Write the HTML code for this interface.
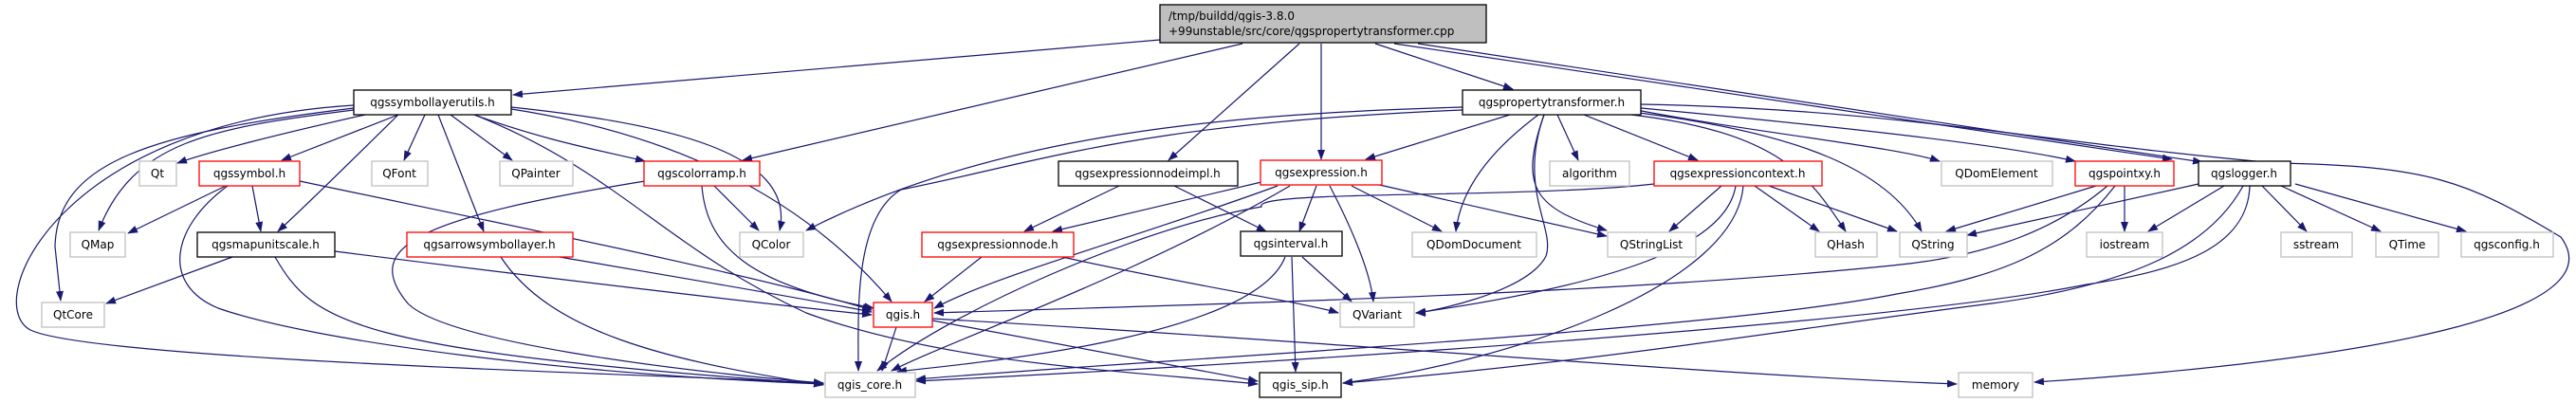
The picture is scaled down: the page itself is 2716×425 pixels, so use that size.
<!DOCTYPE html>
<html><head><meta charset="utf-8"><style>
html,body{margin:0;padding:0;background:#fff;}
svg{display:block;}
text{font-family:"DejaVu Sans","Liberation Sans",sans-serif;font-size:12px;fill:#000;}
.e{fill:none;stroke:#191970;stroke-width:1.2;}
</style></head><body>
<svg width="2716" height="425" viewBox="0 0 2716 425" xmlns="http://www.w3.org/2000/svg">
<defs><marker id="a" markerWidth="11" markerHeight="8" refX="10" refY="4" orient="auto" markerUnits="userSpaceOnUse"><path d="M0,0 L11,4 L0,8 z" fill="#191970"/></marker></defs>
<g class="e" marker-end="url(#a)">
<!-- root -->
<path d="M1223,42 L541,100"/>
<path d="M1310,46 L783,169"/>
<path d="M1370,46 L1232,169"/>
<path d="M1393,46 L1393,168"/>
<path d="M1450,46 L1595,94"/>
<path d="M1470,46 L2290,168"/>
<path d="M1495,46 L2322,171"/>
<!-- SLU -->
<path d="M385,121 C300,140 220,160 187,172"/>
<path d="M420,121 L297,169"/>
<path d="M448,121 L426,169"/>
<path d="M475,121 L540,169"/>
<path d="M500,121 C580,150 640,160 680,170"/>
<path d="M420,121 C380,160 330,210 293,244"/>
<path d="M462,121 L510,244"/>
<path d="M373,116 C220,135 140,150 104,243"/>
<path d="M373,114 C160,140 60,170 58,260 L64,317"/>
<path d="M373,111 C60,130 -20,320 32,348 C100,380 700,395 868,404"/>
<path d="M539,113 C700,130 840,160 822,243"/>
<path d="M539,115 C700,140 840,200 940,318"/>
<path d="M500,121 C650,180 700,260 850,330 C1000,385 1200,392 1326,405"/>
<!-- qgssymbol -->
<path d="M238,196 L135,246"/>
<path d="M266,196 L275,244"/>
<path d="M316,191 C500,230 800,290 919,327"/>
<path d="M240,196 C180,240 170,300 230,325 C330,360 600,395 868,405"/>
<!-- mapunitscale -->
<path d="M245,271 L112,320"/>
<path d="M353,265 C550,290 800,320 919,332"/>
<path d="M290,271 C330,340 370,370 868,405"/>
<!-- arrowsymbollayer -->
<path d="M590,271 C700,290 850,315 919,329"/>
<path d="M528,271 C580,350 700,380 868,406"/>
<!-- colorramp -->
<path d="M753,196 L800,243"/>
<path d="M740,196 C745,260 790,300 921,325"/>
<path d="M680,191 C440,230 380,260 430,320 C470,360 700,390 868,404"/>
<!-- exprnodeimpl -->
<path d="M1180,196 L1080,244"/>
<path d="M1238,196 L1335,244"/>
<!-- qgsexpression -->
<path d="M1330,192 L1110,244"/>
<path d="M1347,196 C1200,250 1050,290 985,325"/>
<path d="M1360,196 C1200,290 1000,360 940,391"/>
<path d="M1388,196 L1370,244"/>
<path d="M1402,196 C1430,250 1445,290 1448,318"/>
<path d="M1425,196 L1520,244"/>
<path d="M1450,194 L1694,249"/>
<!-- exprnode -->
<path d="M1035,271 L975,318"/>
<path d="M1120,271 C1250,300 1380,320 1411,330"/>
<!-- interval -->
<path d="M1373,271 L1425,318"/>
<path d="M1362,271 L1366,392"/>
<path d="M1355,271 C1320,360 1000,385 946,392"/>
<!-- qgis.h -->
<path d="M945,345 L930,391"/>
<path d="M983,338 L1326,402"/>
<path d="M983,336 C1400,360 1800,395 2063,405"/>
<!-- propertytransformer -->
<path d="M1592,121 L1440,168"/>
<path d="M1622,121 C1570,160 1540,200 1535,244"/>
<path d="M1628,121 C1600,200 1640,240 1630,270 C1610,310 1500,330 1493,330"/>
<path d="M1628,121 C1600,200 1620,220 1694,243"/>
<path d="M1642,121 L1664,169"/>
<path d="M1670,121 L1790,169"/>
<path d="M1720,121 C1880,140 1910,190 1946,244"/>
<path d="M1720,118 C1900,140 1990,180 2026,244"/>
<path d="M1720,115 C1850,140 2000,155 2045,170"/>
<path d="M1720,113 C1900,130 2100,150 2188,170"/>
<path d="M1730,110 C2000,115 2150,150 2400,172 C2560,175 2600,190 2700,250 C2760,330 2500,380 2145,403"/>
<path d="M1542,113 C1300,120 1050,140 850,243"/>
<path d="M1542,116 C1200,130 1100,170 950,200 C900,230 905,330 905,391"/>
<!-- exprcontext -->
<path d="M1815,196 L1760,244"/>
<path d="M1850,196 L1918,244"/>
<path d="M1865,196 L2000,244"/>
<path d="M1744,194 C1600,210 1320,200 1330,218 C1200,240 1000,330 925,391"/>
<path d="M1830,196 C1820,260 1700,300 1493,330"/>
<path d="M1838,196 C1830,300 1600,380 1416,404"/>
<!-- pointxy -->
<path d="M2210,196 L2052,244"/>
<path d="M2240,196 L2240,244"/>
<path d="M2222,196 C2170,240 2100,270 1995,280 C1700,310 1300,320 985,330"/>
<path d="M2230,196 C2180,260 2120,290 2000,310 C1800,350 1200,380 966,400"/>
<!-- logger -->
<path d="M2318,194 L2074,248"/>
<path d="M2345,196 L2265,244"/>
<path d="M2385,196 L2432,244"/>
<path d="M2405,196 L2510,244"/>
<path d="M2420,194 L2600,244"/>
<path d="M2365,196 C2330,260 2250,300 2100,320 C1900,345 1700,380 1416,404"/>
<path d="M2372,196 C2370,260 2300,285 2200,300 C2000,340 1400,380 966,402"/>
</g>
<g stroke-width="1.3">
<rect x="1223" y="5" width="344" height="40" fill="#bfbfbf" stroke="#000"/>
<rect x="373" y="95" width="166" height="26" fill="#fff" stroke="#000"/>
<rect x="1542" y="95" width="188" height="26" fill="#fff" stroke="#000"/>
<rect x="147" y="170" width="39" height="26" fill="#fff" stroke="#bfbfbf"/>
<rect x="210" y="170" width="106" height="26" fill="#fff" stroke="#f00"/>
<rect x="392" y="170" width="59" height="26" fill="#fff" stroke="#bfbfbf"/>
<rect x="527" y="170" width="77" height="26" fill="#fff" stroke="#bfbfbf"/>
<rect x="679" y="170" width="122" height="26" fill="#fff" stroke="#f00"/>
<rect x="1116" y="170" width="189" height="26" fill="#fff" stroke="#000"/>
<rect x="1329" y="169" width="128" height="26" fill="#fff" stroke="#f00"/>
<rect x="1634" y="170" width="84" height="26" fill="#fff" stroke="#bfbfbf"/>
<rect x="1744" y="170" width="177" height="26" fill="#fff" stroke="#f00"/>
<rect x="2047" y="170" width="117" height="26" fill="#fff" stroke="#bfbfbf"/>
<rect x="2188" y="170" width="104" height="26" fill="#fff" stroke="#f00"/>
<rect x="2318" y="170" width="97" height="26" fill="#fff" stroke="#000"/>
<rect x="74" y="245" width="58" height="26" fill="#fff" stroke="#bfbfbf"/>
<rect x="208" y="245" width="145" height="26" fill="#fff" stroke="#000"/>
<rect x="429" y="245" width="175" height="26" fill="#fff" stroke="#f00"/>
<rect x="780" y="245" width="67" height="26" fill="#fff" stroke="#bfbfbf"/>
<rect x="972" y="245" width="160" height="26" fill="#fff" stroke="#f00"/>
<rect x="1308" y="244" width="107" height="26" fill="#fff" stroke="#000"/>
<rect x="1489" y="245" width="131" height="26" fill="#fff" stroke="#bfbfbf"/>
<rect x="1695" y="245" width="93" height="26" fill="#fff" stroke="#bfbfbf"/>
<rect x="1914" y="245" width="65" height="26" fill="#fff" stroke="#bfbfbf"/>
<rect x="2003" y="245" width="71" height="26" fill="#fff" stroke="#bfbfbf"/>
<rect x="2200" y="245" width="80" height="26" fill="#fff" stroke="#bfbfbf"/>
<rect x="2405" y="245" width="75" height="26" fill="#fff" stroke="#bfbfbf"/>
<rect x="2505" y="245" width="66" height="26" fill="#fff" stroke="#bfbfbf"/>
<rect x="2595" y="245" width="97" height="26" fill="#fff" stroke="#bfbfbf"/>
<rect x="44" y="319" width="66" height="26" fill="#fff" stroke="#bfbfbf"/>
<rect x="921" y="319" width="62" height="26" fill="#fff" stroke="#f00"/>
<rect x="1413" y="319" width="78" height="26" fill="#fff" stroke="#bfbfbf"/>
<rect x="870" y="393" width="95" height="26" fill="#fff" stroke="#bfbfbf"/>
<rect x="1328" y="393" width="86" height="26" fill="#fff" stroke="#000"/>
<rect x="2065" y="393" width="78" height="26" fill="#fff" stroke="#bfbfbf"/>
</g>
<g text-anchor="start">
<text x="1232" y="21">/tmp/buildd/qgis-3.8.0</text>
<text x="1232" y="37">+99unstable/src/core/qgspropertytransformer.cpp</text>
</g>
<g text-anchor="middle">
<text x="456" y="112">qgssymbollayerutils.h</text>
<text x="1636" y="112">qgspropertytransformer.h</text>
<text x="166" y="187">Qt</text>
<text x="263" y="187">qgssymbol.h</text>
<text x="421" y="187">QFont</text>
<text x="565" y="187">QPainter</text>
<text x="740" y="187">qgscolorramp.h</text>
<text x="1210" y="187">qgsexpressionnodeimpl.h</text>
<text x="1393" y="186">qgsexpression.h</text>
<text x="1676" y="187">algorithm</text>
<text x="1832" y="187">qgsexpressioncontext.h</text>
<text x="2105" y="187">QDomElement</text>
<text x="2240" y="187">qgspointxy.h</text>
<text x="2366" y="187">qgslogger.h</text>
<text x="103" y="262">QMap</text>
<text x="280" y="262">qgsmapunitscale.h</text>
<text x="516" y="262">qgsarrowsymbollayer.h</text>
<text x="813" y="262">QColor</text>
<text x="1052" y="262">qgsexpressionnode.h</text>
<text x="1361" y="261">qgsinterval.h</text>
<text x="1554" y="262">QDomDocument</text>
<text x="1741" y="262">QStringList</text>
<text x="1946" y="262">QHash</text>
<text x="2038" y="262">QString</text>
<text x="2240" y="262">iostream</text>
<text x="2442" y="262">sstream</text>
<text x="2538" y="262">QTime</text>
<text x="2643" y="262">qgsconfig.h</text>
<text x="77" y="336">QtCore</text>
<text x="952" y="336">qgis.h</text>
<text x="1452" y="336">QVariant</text>
<text x="917" y="410">qgis_core.h</text>
<text x="1371" y="410">qgis_sip.h</text>
<text x="2104" y="410">memory</text>
</g>
</svg>
</body></html>
